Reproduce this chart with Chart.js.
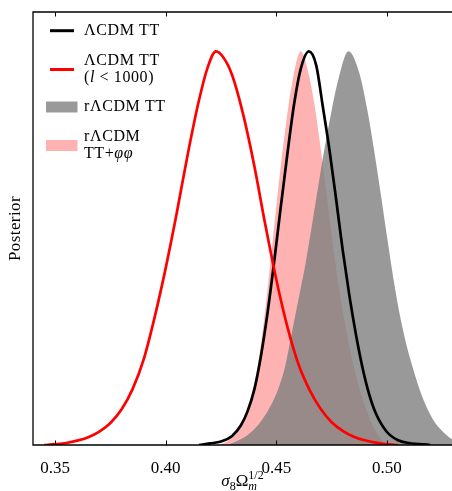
<!DOCTYPE html>
<html>
<head>
<meta charset="utf-8">
<script src="https://cdn.jsdelivr.net/npm/chart.js@4"></script>
<style>
  body { margin: 0; background: #fff; }
  #box { width: 452px; height: 491px; }
</style>
</head>
<body>
<div id="box"><canvas id="grafico"></canvas></div>
<script>
// valores (x = sigma8 Omega_m^1/2, y = posterior normalizado)
const xTicks = [0.35, 0.40, 0.45, 0.50];

const rojoTT = [
  [0.345, 0], [0.350, 0.002], [0.355, 0.005], [0.360, 0.011], [0.365, 0.020],
  [0.370, 0.034], [0.375, 0.056], [0.380, 0.090], [0.385, 0.142], [0.390, 0.217],
  [0.395, 0.325], [0.400, 0.450], [0.405, 0.590], [0.410, 0.740], [0.415, 0.875],
  [0.419, 0.960], [0.4227, 1.0], [0.426, 0.985], [0.430, 0.940], [0.435, 0.840],
  [0.440, 0.710], [0.445, 0.560], [0.450, 0.420], [0.455, 0.300], [0.460, 0.205],
  [0.465, 0.140], [0.470, 0.092], [0.475, 0.058], [0.480, 0.036], [0.485, 0.021],
  [0.490, 0.012], [0.495, 0.006], [0.500, 0.002], [0.505, 0]
];

const negroTT = [
  [0.415, 0], [0.420, 0.004], [0.425, 0.009], [0.430, 0.023], [0.434, 0.050],
  [0.437, 0.086], [0.440, 0.140], [0.443, 0.225], [0.446, 0.335], [0.449, 0.465],
  [0.452, 0.605], [0.455, 0.740], [0.458, 0.865], [0.461, 0.955], [0.4647, 1.0],
  [0.468, 0.965], [0.471, 0.860], [0.474, 0.750], [0.477, 0.625], [0.480, 0.495],
  [0.483, 0.380], [0.486, 0.280], [0.489, 0.195], [0.492, 0.128], [0.495, 0.080],
  [0.500, 0.033], [0.505, 0.012], [0.510, 0.005], [0.5195, 0]
];

const grisRTT = [
  [0.428, 0], [0.433, 0.012], [0.438, 0.030], [0.443, 0.060], [0.447, 0.095],
  [0.451, 0.145], [0.454, 0.200], [0.457, 0.285], [0.460, 0.370], [0.463, 0.455],
  [0.466, 0.555], [0.469, 0.660], [0.472, 0.760], [0.475, 0.850], [0.478, 0.928],
  [0.4826, 1.0], [0.4875, 0.945], [0.491, 0.855], [0.494, 0.755], [0.497, 0.645],
  [0.500, 0.530], [0.503, 0.420], [0.506, 0.325], [0.509, 0.250], [0.512, 0.190],
  [0.515, 0.137], [0.518, 0.095], [0.521, 0.063], [0.524, 0.041], [0.527, 0.025],
  [0.530, 0.013], [0.535, 0.004], [0.545, 0]
];

const rosaRTTpp = [
  [0.424, 0], [0.428, 0.010], [0.432, 0.032], [0.436, 0.075], [0.439, 0.130],
  [0.442, 0.215], [0.445, 0.345], [0.448, 0.500], [0.451, 0.660], [0.454, 0.800],
  [0.457, 0.915], [0.4611, 1.0], [0.4645, 0.945], [0.4675, 0.855], [0.470, 0.755],
  [0.473, 0.625], [0.476, 0.490], [0.479, 0.375], [0.482, 0.280], [0.485, 0.200],
  [0.488, 0.135], [0.491, 0.085], [0.494, 0.045], [0.497, 0.018], [0.4995, 0]
];

// textos de la leyenda (_..._ = cursiva)
const leyendaTextos = [
  ['ΛCDM TT'],
  ['ΛCDM TT', '(_l_ < 1000)'],
  ['rΛCDM TT'],
  ['rΛCDM', 'TT+_φφ_']
];

const SERIF = '"Liberation Serif", "DejaVu Serif", serif';

function puntos(arr) {
  return arr.map(p => ({ x: p[0], y: p[1] }));
}

function textoRico(ctx, str, x, y, size) {
  const partes = str.split('_');
  let cx = x;
  partes.forEach((p, i) => {
    ctx.font = (i % 2 ? 'italic ' : '') + size + 'px ' + SERIF;
    ctx.fillText(p, cx, y);
    cx += ctx.measureText(p).width;
  });
}

const marcoYLeyenda = {
  id: 'marcoYLeyenda',
  afterDraw(chart) {
    const ctx = chart.ctx;
    const a = chart.chartArea;
    const sx = chart.scales.x;
    ctx.save();
    // marco
    ctx.strokeStyle = '#000';
    ctx.lineWidth = 1.3;
    ctx.beginPath();
    ctx.moveTo(chart.width + 5, a.top);
    ctx.lineTo(a.left, a.top);
    ctx.lineTo(a.left, a.bottom);
    ctx.lineTo(chart.width + 5, a.bottom);
    ctx.stroke();
    // marcas de los ticks (hacia adentro, arriba y abajo)
    ctx.lineWidth = 1;
    xTicks.forEach(v => {
      const px = Math.round(sx.getPixelForValue(v)) + 0.5;
      ctx.beginPath();
      ctx.moveTo(px, a.bottom);
      ctx.lineTo(px, a.bottom - 4.5);
      ctx.moveTo(px, a.top);
      ctx.lineTo(px, a.top + 4.5);
      ctx.stroke();
    });

    // leyenda
    const filas = [30.7, 69.5, 107, 145.5];
    const ds = chart.data.datasets;
    const orden = [1, 0, 2, 3];
    ctx.textBaseline = 'middle';
    ctx.fillStyle = '#000';
    if ('letterSpacing' in ctx) ctx.letterSpacing = '0.6px';
    orden.forEach((di, k) => {
      const d = ds[di];
      const y = filas[k];
      if (d.fill) {
        ctx.fillStyle = d.backgroundColor;
        ctx.fillRect(46, y - 5.5, 31.5, 11);
      } else {
        ctx.strokeStyle = d.borderColor;
        ctx.lineWidth = 3;
        ctx.beginPath();
        ctx.moveTo(50, y);
        ctx.lineTo(74, y);
        ctx.stroke();
      }
      ctx.fillStyle = '#000';
      const lineas = leyendaTextos[k];
      const y0 = y - (lineas.length - 1) * 8.3;
      lineas.forEach((t, j) => textoRico(ctx, t, 84, y0 + j * 16.6, 16));
    });
    ctx.letterSpacing = '0.4px';

    // titulo eje y
    ctx.save();
    ctx.translate(16, (a.top + a.bottom) / 2);
    ctx.rotate(-Math.PI / 2);
    ctx.textAlign = 'center';
    ctx.font = '17px ' + SERIF;
    ctx.fillText('Posterior', 0, 0);
    ctx.restore();
    if ('letterSpacing' in ctx) ctx.letterSpacing = '0px';

    // titulo eje x: sigma_8 Omega_m^{1/2}
    ctx.textBaseline = 'alphabetic';
    ctx.textAlign = 'left';
    const base = 486;
    const seg = [
      { t: 'σ', f: 'italic 17px ', dy: 0 },
      { t: '8', f: '12px ', dy: 3.5 },
      { t: 'Ω', f: '17px ', dy: 0 },
      { t: 'm', f: 'italic 12px ', dy: 3.5, sup: '1/2' }
    ];
    let ancho = 0;
    seg.forEach(s => {
      ctx.font = s.f + SERIF;
      let w = ctx.measureText(s.t).width;
      if (s.sup) {
        ctx.font = '12px ' + SERIF;
        w = Math.max(w, ctx.measureText(s.sup).width);
      }
      s.w = w;
      ancho += w;
    });
    let cx = (a.left + a.right) / 2 - ancho / 2;
    seg.forEach(s => {
      ctx.font = s.f + SERIF;
      ctx.fillText(s.t, cx, base + s.dy);
      if (s.sup) {
        ctx.font = '12px ' + SERIF;
        ctx.fillText(s.sup, cx, base - 7);
      }
      cx += s.w;
    });
    ctx.restore();
  }
};

const ctx = document.getElementById('grafico').getContext('2d');
const grafico = new Chart(ctx, {
  type: 'line',
  data: {
    datasets: [
      {
        label: 'ΛCDM TT (l < 1000)',
        data: puntos(rojoTT),
        borderColor: '#ff0000',
        borderWidth: 2.7,
        fill: false,
        order: 0
      },
      {
        label: 'ΛCDM TT',
        data: puntos(negroTT),
        borderColor: '#000000',
        borderWidth: 2.7,
        fill: false,
        order: 1
      },
      {
        label: 'rΛCDM TT',
        data: puntos(grisRTT),
        borderWidth: 0,
        borderColor: 'rgba(0,0,0,0)',
        backgroundColor: 'rgba(128,128,128,0.8)',
        fill: 'origin',
        order: 2
      },
      {
        label: 'rΛCDM TT+φφ',
        data: puntos(rosaRTTpp),
        borderWidth: 0,
        borderColor: 'rgba(0,0,0,0)',
        backgroundColor: 'rgba(255,0,0,0.3)',
        fill: 'origin',
        order: 3
      }
    ]
  },
  options: {
    responsive: true,
    maintainAspectRatio: false,
    animation: false,
    layout: { padding: { top: 12, right: 0, left: 0, bottom: 0 } },
    elements: {
      point: { radius: 0 },
      line: { cubicInterpolationMode: 'monotone' }
    },
    plugins: {
      legend: { display: false },
      tooltip: { enabled: false }
    },
    scales: {
      x: {
        type: 'linear',
        min: 0.34,
        max: 0.5294,
        afterBuildTicks: s => { s.ticks = xTicks.map(v => ({ value: v })); },
        afterFit: s => { s.height = 46; },
        grid: { display: false },
        border: { display: false },
        ticks: {
          autoSkip: false,
          maxRotation: 0,
          padding: 5,
          color: '#000',
          font: { family: SERIF, size: 17 },
          callback: v => v.toFixed(2)
        }
      },
      y: {
        min: 0,
        max: 1.1,
        afterFit: s => { s.width = 33; },
        grid: { display: false },
        border: { display: false },
        ticks: { display: false }
      }
    }
  },
  plugins: [marcoYLeyenda]
});
</script>
</body>
</html>
